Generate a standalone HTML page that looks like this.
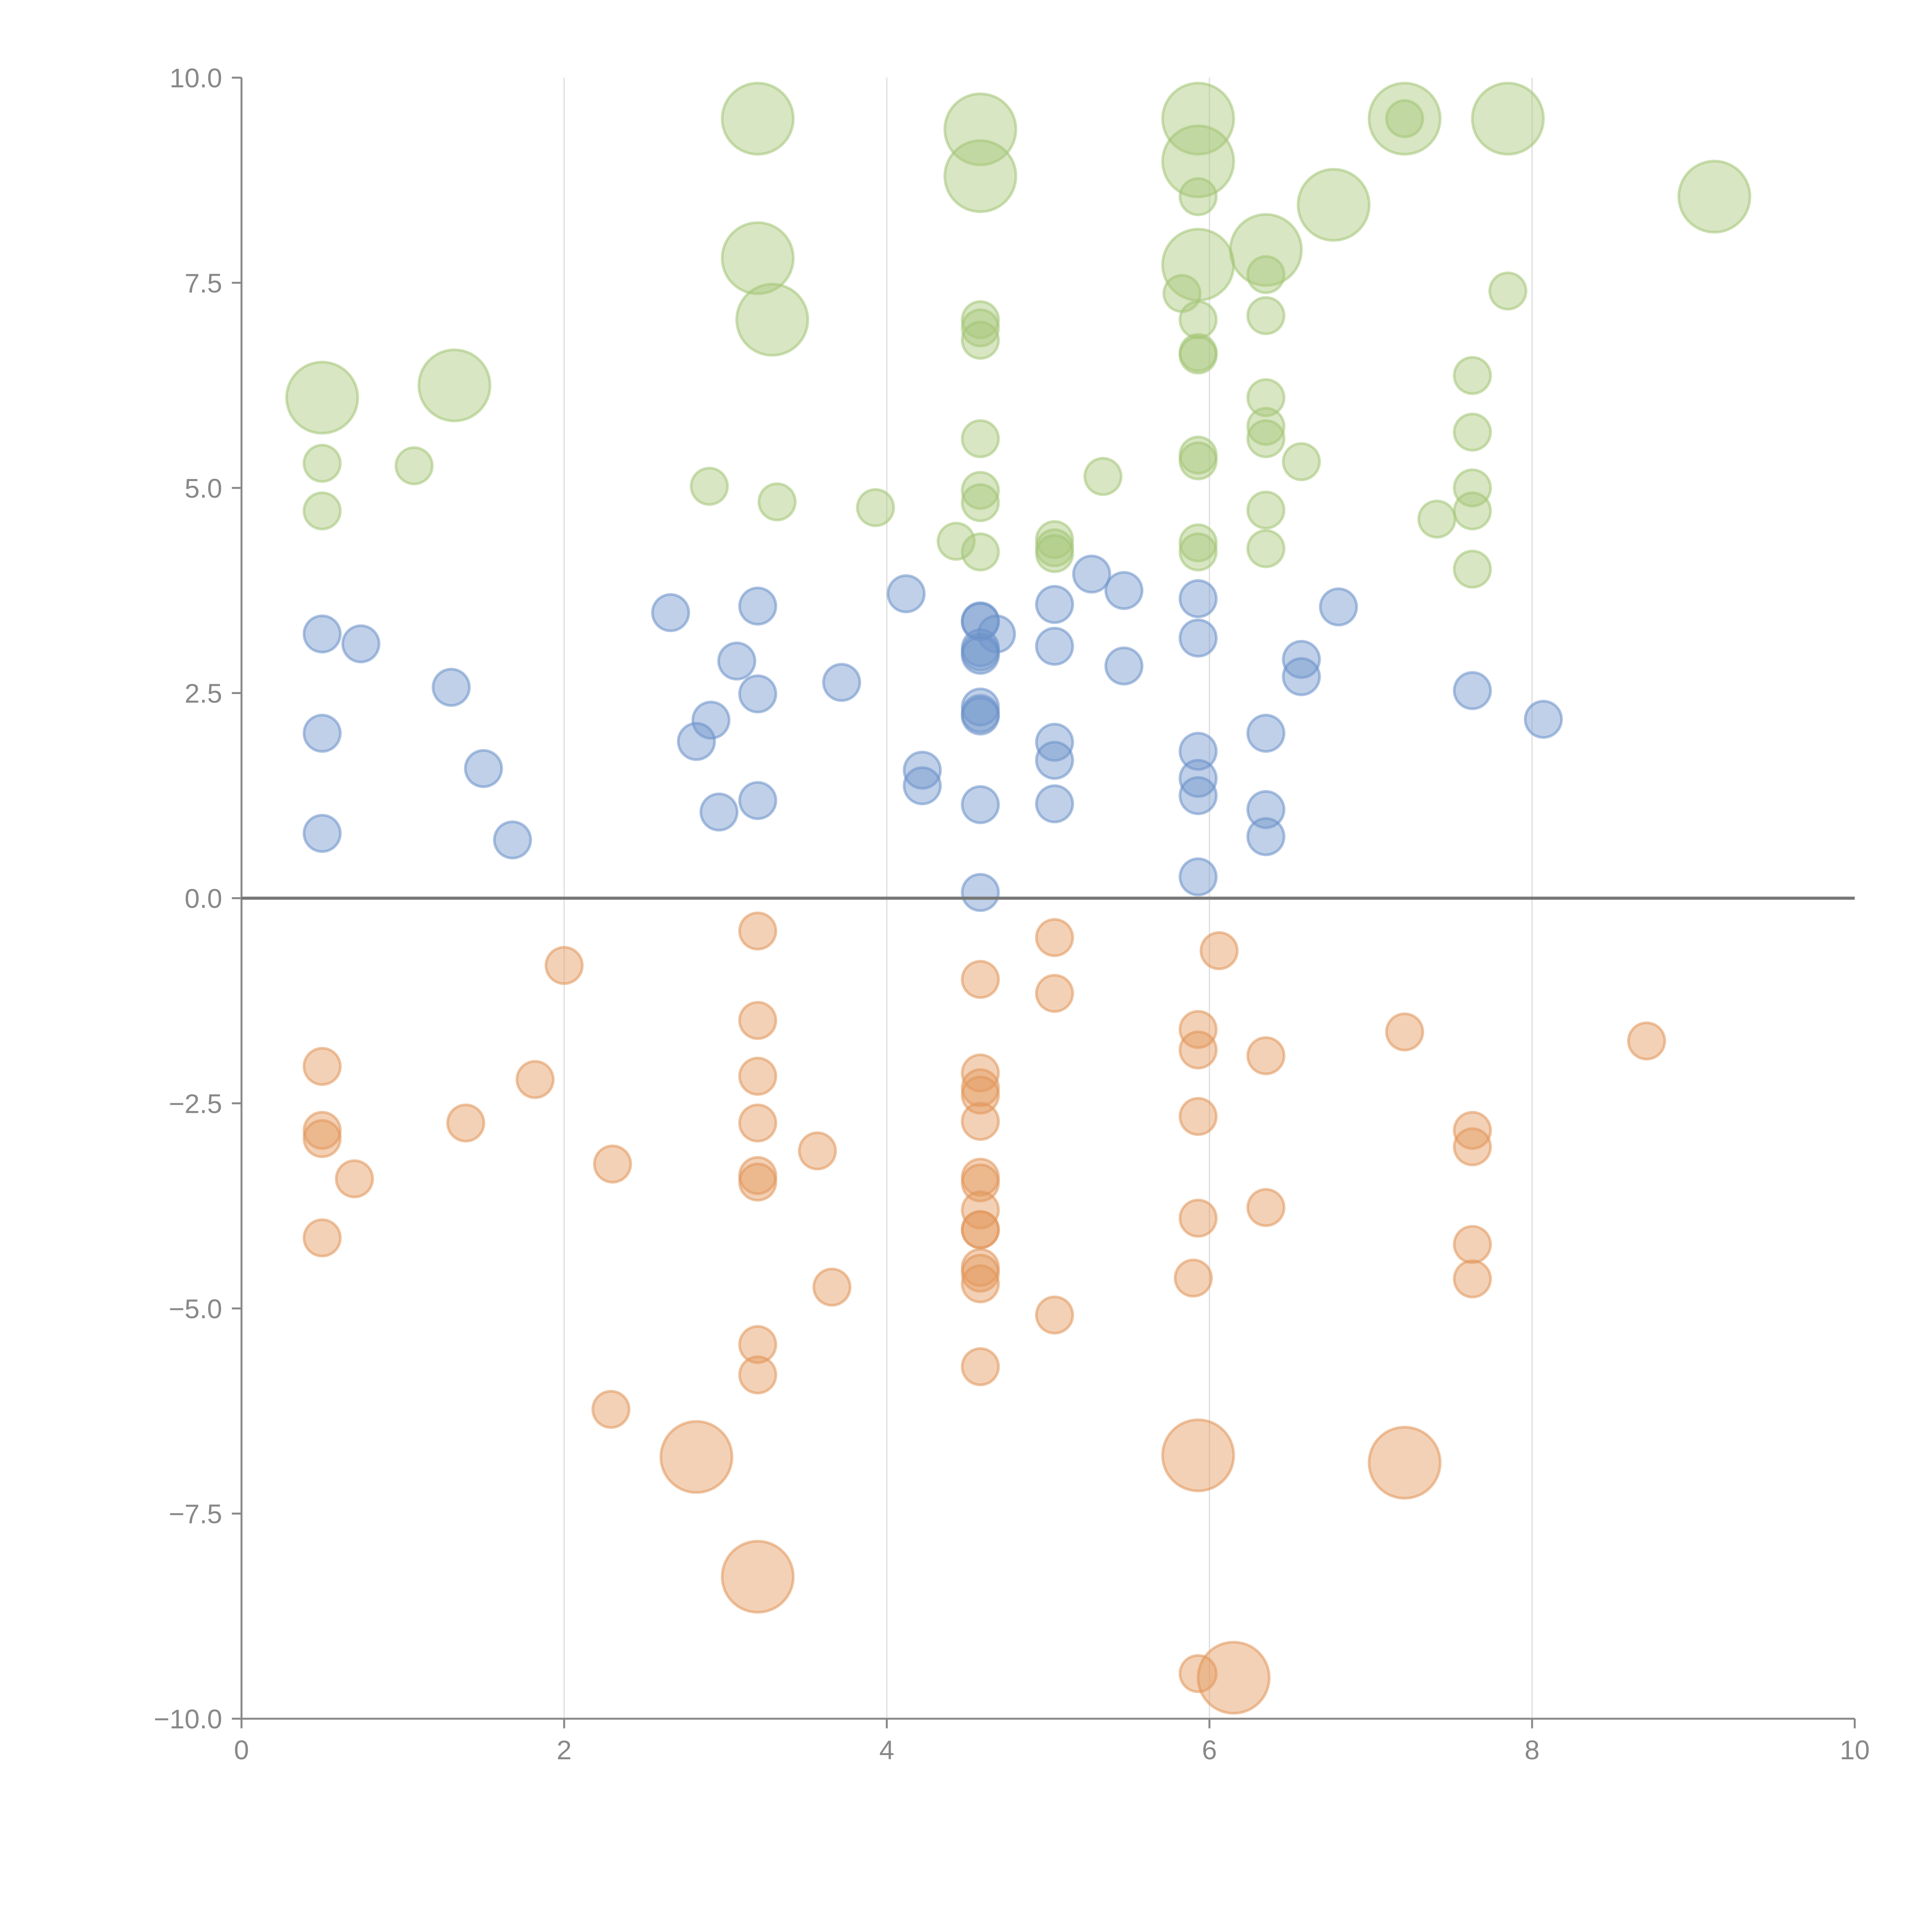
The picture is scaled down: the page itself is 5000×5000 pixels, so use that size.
<!DOCTYPE html>
<html><head><meta charset="utf-8"><style>
html,body{margin:0;padding:0;background:#fff;}
svg{display:block;font-family:"Liberation Sans",sans-serif;}
</style></head><body>
<svg id="chart" width="5000" height="5000" viewBox="0 0 5000 5000" xmlns="http://www.w3.org/2000/svg">
<g id="grid"></g>
<g id="marks"></g>
<g id="axes"></g>
</svg>
<script>
const xTicks=[0,2,4,6,8,10];
const yTicks=[-10,-7.5,-5,-2.5,0,2.5,5,7.5,10];
const greenBigX=[3.2,4.58,4.58,5.93,5.93,7.21,7.85,3.2,3.29,5.93,6.35,6.77,9.13,0.5,1.32];
const greenBigY=[9.5,9.37,8.8,9.5,8.98,9.5,9.5,7.8,7.05,7.72,7.9,8.45,8.55,6.1,6.25];
const greenX=[7.21,5.93,5.83,5.93,6.35,6.35,7.85,4.58,4.58,4.58,5.93,5.93,6.35,7.63,0.5,1.07,4.58,5.93,5.93,6.35,6.35,6.57,7.63,0.5,2.9,3.32,3.93,4.58,4.58,4.43,4.58,5.04,5.04,5.04,5.34,5.93,5.93,6.35,6.35,7.41,7.63,7.63,7.63];
const greenY=[9.5,8.55,7.37,7.05,7.6,7.1,7.4,7.05,6.95,6.8,6.65,6.62,6.1,6.37,5.3,5.27,5.6,5.4,5.33,5.75,5.6,5.32,5.68,4.72,5.02,4.83,4.76,4.97,4.82,4.35,4.22,4.37,4.27,4.2,5.14,4.33,4.22,4.73,4.26,4.62,5.0,4.72,4.01];
const blueX=[0.5,0.74,1.3,0.5,1.5,0.5,1.68,2.66,3.2,3.07,3.2,2.91,2.82,3.72,2.96,3.2,4.12,4.58,4.58,4.68,4.58,4.58,4.58,4.58,4.58,4.58,4.22,4.22,4.58,4.58,5.04,5.27,5.47,5.04,5.47,5.04,5.04,5.04,5.93,5.93,5.93,5.93,5.93,5.93,6.35,6.35,6.35,6.57,6.57,6.8,7.63,8.07];
const blueY=[3.22,3.1,2.57,2.01,1.58,0.79,0.71,3.48,3.56,2.89,2.49,2.17,1.91,2.63,1.05,1.19,3.71,3.38,3.37,3.22,3.05,3.0,2.96,2.33,2.25,2.22,1.56,1.37,1.14,0.07,3.58,3.95,3.75,3.07,2.83,1.9,1.68,1.15,3.65,3.17,1.79,1.46,1.25,0.26,2.01,1.08,0.75,2.91,2.7,3.55,2.53,2.18];
const orangeX=[3.2,2.0,5.04,6.06,4.58,5.04,3.2,0.5,1.82,3.2,4.58,4.58,4.58,5.93,5.93,6.35,7.21,8.71,0.5,0.5,0.7,1.39,2.3,3.2,3.2,3.2,3.57,4.58,4.58,4.58,4.58,4.58,4.58,4.58,4.58,4.58,5.93,5.93,6.35,7.63,7.63,7.63,7.63,0.5,3.66,5.9,5.04,3.2,3.2,4.58,2.29,5.93];
const orangeY=[-0.4,-0.82,-0.48,-0.64,-0.99,-1.16,-1.49,-2.05,-2.21,-2.17,-2.13,-2.31,-2.4,-1.6,-1.85,-1.92,-1.63,-1.74,-2.83,-2.93,-3.42,-2.74,-3.24,-2.74,-3.38,-3.46,-3.08,-2.72,-3.4,-3.47,-3.8,-4.04,-4.04,-4.5,-4.57,-4.7,-2.66,-3.9,-3.77,-2.83,-3.03,-4.22,-4.64,-4.14,-4.74,-4.63,-5.08,-5.44,-5.81,-5.71,-6.23,-9.45];
const orangeBigX=[2.82,5.93,7.21,3.2,6.15];
const orangeBigY=[-6.81,-6.79,-6.88,-8.27,-9.5];

const X0=625,X1=4800,Y0=4448,Y1=201;
function sx(v){return X0+(v-0)/(10-0)*(X1-X0);}
function sy(v){return Y0-(v+10)/20*(Y0-Y1);}
const NS="http://www.w3.org/2000/svg";
function mk(tag,parent,attrs){const e=document.createElementNS(NS,tag);for(const k in attrs)e.setAttribute(k,attrs[k]);parent.appendChild(e);return e;}
const grid=document.getElementById('grid'),marks=document.getElementById('marks'),axes=document.getElementById('axes');
xTicks.forEach(t=>{if(t>0&&t<10){const l=mk('line',grid,{x1:sx(t),x2:sx(t),y1:Y1,y2:Y0,stroke:'#dcdcdc','stroke-width':3});

}});
function draw(xs,ys,r,fill,stroke,name){
  xs.forEach((x,i)=>{const c=mk('circle',marks,{cx:sx(x),cy:sy(ys[i]),r:r,fill:fill,'fill-opacity':0.45,stroke:stroke,'stroke-opacity':0.55,'stroke-width':7});
  
  });
}
draw(greenBigX,greenBigY,92,'#a9c77b','#a3c475','green-bubble-large');
draw(greenX,greenY,47,'#a9c77b','#a3c475','green-bubble');
draw(blueX,blueY,47,'#7196cd','#6a90c8','blue-bubble');
draw(orangeX,orangeY,47,'#e49a5e','#e0955a','orange-bubble');
draw(orangeBigX,orangeBigY,92,'#e49a5e','#e0955a','orange-bubble-large');
// axes
let a=mk('line',axes,{x1:X0,x2:X0,y1:Y1,y2:Y0,stroke:'#888','stroke-width':5});


a=mk('line',axes,{x1:X0,x2:X1,y1:Y0,y2:Y0,stroke:'#888','stroke-width':5});


a=mk('line',axes,{x1:X0,x2:X1,y1:sy(0),y2:sy(0),stroke:'#777','stroke-width':8});


xTicks.forEach(t=>{mk('line',axes,{x1:sx(t),x2:sx(t),y1:Y0,y2:Y0+25,stroke:'#888','stroke-width':5});
const tx=mk('text',axes,{x:sx(t),y:Y0+105,'text-anchor':'middle','font-size':70,fill:'#888'});tx.textContent=t;

});
yTicks.forEach(t=>{mk('line',axes,{x1:X0-25,x2:X0,y1:sy(t),y2:sy(t),stroke:'#888','stroke-width':5});
const tx=mk('text',axes,{x:X0-50,y:sy(t)+25,'text-anchor':'end','font-size':70,fill:'#888'});tx.textContent=(t<0?'\u2212':'')+Math.abs(t).toFixed(1);

});
</script>
</body></html>
